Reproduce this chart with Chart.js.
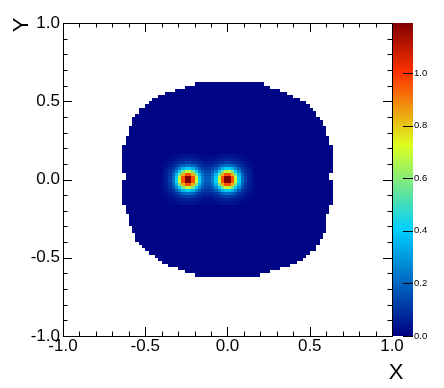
<!DOCTYPE html>
<html>
<head>
<meta charset="utf-8">
<script src="https://cdn.jsdelivr.net/npm/chart.js@4/dist/chart.umd.min.js"></script>
<style>
  html, body { margin: 0; padding: 0; background: #fff; }
</style>
</head>
<body>
<canvas id="chart" width="444" height="388"></canvas>
<script>
// Histogram binning (100 x 100 bins over [-1, 1])
const axisMin = -1, axisMax = 1;
const binW = 0.02;
const zMax = 1.19;

// Tick labels
const axisTicks = [-1, -0.5, 0, 0.5, 1];
const zTicks = [0, 0.2, 0.4, 0.6, 0.8, 1.0];

// Filled region, one entry per row from the top row (0.60..0.62) to the bottom row (-0.62..-0.60)
const rowTopY = 0.62;
const rowLeft = [
  -0.20, -0.26, -0.32, -0.38, -0.42, -0.46, -0.48, -0.50, -0.54, -0.54,
  -0.56, -0.58, -0.58, -0.58, -0.60, -0.60, -0.60, -0.62, -0.62, -0.62,
  -0.64, -0.64, -0.64, -0.64, -0.64, -0.64, -0.64, -0.64, -0.64, -0.62,
  -0.62, -0.64, -0.64, -0.64, -0.64, -0.64, -0.64, -0.64, -0.64, -0.62,
  -0.62, -0.62, -0.60, -0.60, -0.60, -0.60, -0.58, -0.58, -0.56, -0.56,
  -0.56, -0.54, -0.52, -0.50, -0.48, -0.44, -0.42, -0.40, -0.36, -0.30,
  -0.26, -0.20
];
const rowRight = [
  0.22, 0.26, 0.32, 0.36, 0.40, 0.44, 0.48, 0.50, 0.52, 0.54,
  0.54, 0.56, 0.58, 0.58, 0.60, 0.60, 0.60, 0.62, 0.62, 0.62,
  0.64, 0.64, 0.64, 0.64, 0.64, 0.64, 0.64, 0.64, 0.64, 0.62,
  0.62, 0.64, 0.64, 0.64, 0.64, 0.64, 0.64, 0.64, 0.64, 0.62,
  0.62, 0.62, 0.60, 0.60, 0.60, 0.60, 0.60, 0.60, 0.58, 0.58,
  0.56, 0.56, 0.54, 0.54, 0.50, 0.48, 0.46, 0.42, 0.38, 0.32,
  0.26, 0.20
];

// Content of the flat part of the region
const baseLevel = 0.01;

// Two peaks, each centred on a bin corner
const peakX = [-0.24, 0.0];
const peakY = [0.0, 0.0];
// One quadrant of a peak: peakQuarter[row offset][column offset]
const peakQuarter = [
  [1.18, 0.95, 0.68, 0.40, 0.21, 0.11, 0.060, 0.030],
  [0.95, 0.82, 0.56, 0.34, 0.185, 0.095, 0.055, 0.028],
  [0.68, 0.56, 0.40, 0.25, 0.14, 0.080, 0.045, 0.022],
  [0.40, 0.34, 0.25, 0.16, 0.095, 0.060, 0.035, 0.016],
  [0.21, 0.185, 0.14, 0.095, 0.065, 0.042, 0.022, 0.010],
  [0.11, 0.095, 0.080, 0.060, 0.042, 0.025, 0.013, 0.005],
  [0.060, 0.055, 0.045, 0.035, 0.022, 0.013, 0.006, 0.002],
  [0.030, 0.028, 0.022, 0.016, 0.010, 0.005, 0.002, 0.001]
];

// Palette stops (ROOT style gradient)
const stops = [0.00, 0.34, 0.61, 0.84, 1.00];
const red   = [0.00, 0.00, 0.87, 1.00, 0.51];
const green = [0.00, 0.81, 1.00, 0.20, 0.00];
const blue  = [0.51, 1.00, 0.12, 0.00, 0.00];

function palette(t) {
  t = Math.max(0, Math.min(1, t));
  let k = 0;
  while (k < stops.length - 2 && t > stops[k + 1]) k++;
  const f = (t - stops[k]) / (stops[k + 1] - stops[k]);
  const c = a => Math.round(255 * (a[k] + f * (a[k + 1] - a[k])));
  return 'rgb(' + c(red) + ',' + c(green) + ',' + c(blue) + ')';
}

function peakContent(xc, yc) {
  let v = 0;
  for (let p = 0; p < peakX.length; p++) {
    const i = Math.round(Math.abs(xc - peakX[p]) / binW - 0.5);
    const j = Math.round(Math.abs(yc - peakY[p]) / binW - 0.5);
    if (j < peakQuarter.length && i < peakQuarter[j].length) v += peakQuarter[j][i];
  }
  return v;
}

// Bin contents
const cells = [];
for (let k = 0; k < rowLeft.length; k++) {
  const yc = rowTopY - binW * (k + 0.5);
  const i0 = Math.round((rowLeft[k] - axisMin) / binW);
  const i1 = Math.round((rowRight[k] - axisMin) / binW);
  for (let i = i0; i < i1; i++) {
    const xc = axisMin + binW * (i + 0.5);
    cells.push({ x: xc, y: yc, v: baseLevel + peakContent(xc, yc) });
  }
}

const font = "'Liberation Sans', Arial, Helvetica, sans-serif";
Chart.defaults.font.family = font;
Chart.defaults.color = '#000';

// Draws the bins, colour bar, frame, tick marks and axis titles
const heatmap = {
  id: 'heatmap',
  beforeDatasetsDraw(chart) {
    const { ctx, chartArea: a, scales: { x, y, z } } = chart;
    ctx.save();
    chart.data.datasets[0].data.forEach(c => {
      const l = Math.round(x.getPixelForValue(c.x - binW / 2));
      const r = Math.round(x.getPixelForValue(c.x + binW / 2));
      const t = Math.round(y.getPixelForValue(c.y + binW / 2));
      const b = Math.round(y.getPixelForValue(c.y - binW / 2));
      ctx.fillStyle = palette(c.v / zMax);
      ctx.fillRect(l, t, r - l, b - t);
    });
    // colour bar
    for (let py = Math.round(a.top); py < Math.round(a.bottom); py++) {
      const v = z.getValueForPixel(py + 0.5);
      ctx.fillStyle = palette(v / zMax);
      ctx.fillRect(a.right + 1, py, 20, 1);
    }
    ctx.restore();
  },
  afterDraw(chart) {
    const { ctx, chartArea: a, scales: { x, y, z } } = chart;
    ctx.save();
    ctx.strokeStyle = '#000';
    ctx.lineWidth = 1;
    ctx.strokeRect(a.left + 0.5, a.top + 0.5, a.right - a.left, a.bottom - a.top);

    const major = 9, minor = 4.5;
    ctx.beginPath();
    for (let v = axisMin; v <= axisMax + 1e-9; v += 0.1) {
      const isMajor = Math.abs(v * 2 - Math.round(v * 2)) < 1e-6;
      const len = isMajor ? major : minor;
      const px = Math.round(x.getPixelForValue(v)) + 0.5;
      ctx.moveTo(px, a.bottom); ctx.lineTo(px, a.bottom - len);
      ctx.moveTo(px, a.top); ctx.lineTo(px, a.top + len);
      const py = Math.round(y.getPixelForValue(v)) + 0.5;
      ctx.moveTo(a.left, py); ctx.lineTo(a.left + len, py);
      ctx.moveTo(a.right, py); ctx.lineTo(a.right - len, py);
    }
    zTicks.forEach(v => {
      const py = Math.round(z.getPixelForValue(v)) + 0.5;
      ctx.moveTo(a.right + 11, py); ctx.lineTo(a.right + 21, py);
    });
    ctx.stroke();

    // axis titles
    ctx.fillStyle = '#000';
    ctx.font = '22px ' + font;
    ctx.textAlign = 'center';
    ctx.textBaseline = 'middle';
    ctx.fillText('X', 396, 373);
    ctx.translate(22, 25);
    ctx.rotate(-Math.PI / 2);
    ctx.fillText('Y', 0, 0);
    ctx.restore();
  }
};

const ctx = document.getElementById('chart').getContext('2d');
const chart = new Chart(ctx, {
  type: 'scatter',
  data: {
    datasets: [{
      label: 'bins',
      data: cells,
      pointRadius: 0,
      pointHoverRadius: 0
    }]
  },
  options: {
    responsive: false,
    animation: false,
    events: [],
    layout: { padding: { left: 0, top: 23, right: 0, bottom: 0 } },
    plugins: {
      legend: { display: false },
      tooltip: { enabled: false }
    },
    scales: {
      x: {
        type: 'linear',
        min: axisMin,
        max: axisMax,
        afterBuildTicks: s => { s.ticks = axisTicks.map(v => ({ value: v })); },
        ticks: {
          callback: v => v.toFixed(1),
          font: { size: 17 },
          padding: 0,
          maxRotation: 0,
          autoSkip: false
        },
        grid: { display: false, drawTicks: false },
        border: { display: false },
        afterFit: s => { s.height = 52; }
      },
      y: {
        type: 'linear',
        min: axisMin,
        max: axisMax,
        afterBuildTicks: s => { s.ticks = axisTicks.map(v => ({ value: v })); },
        ticks: {
          callback: v => v.toFixed(1),
          font: { size: 17 },
          padding: 3,
          autoSkip: false
        },
        grid: { display: false, drawTicks: false },
        border: { display: false },
        afterFit: s => { s.width = 63; s.paddingTop = 0; s.paddingBottom = 0; }
      },
      z: {
        type: 'linear',
        axis: 'y',
        position: 'right',
        min: 0,
        max: zMax,
        afterBuildTicks: s => { s.ticks = zTicks.map(v => ({ value: v })); },
        ticks: {
          callback: v => v.toFixed(1),
          font: { size: 9.5 },
          padding: 22,
          autoSkip: false
        },
        grid: { display: false, drawTicks: false },
        border: { display: false },
        afterFit: s => { s.width = 52; s.paddingTop = 0; s.paddingBottom = 0; }
      }
    }
  },
  plugins: [heatmap]
});
</script>
</body>
</html>
